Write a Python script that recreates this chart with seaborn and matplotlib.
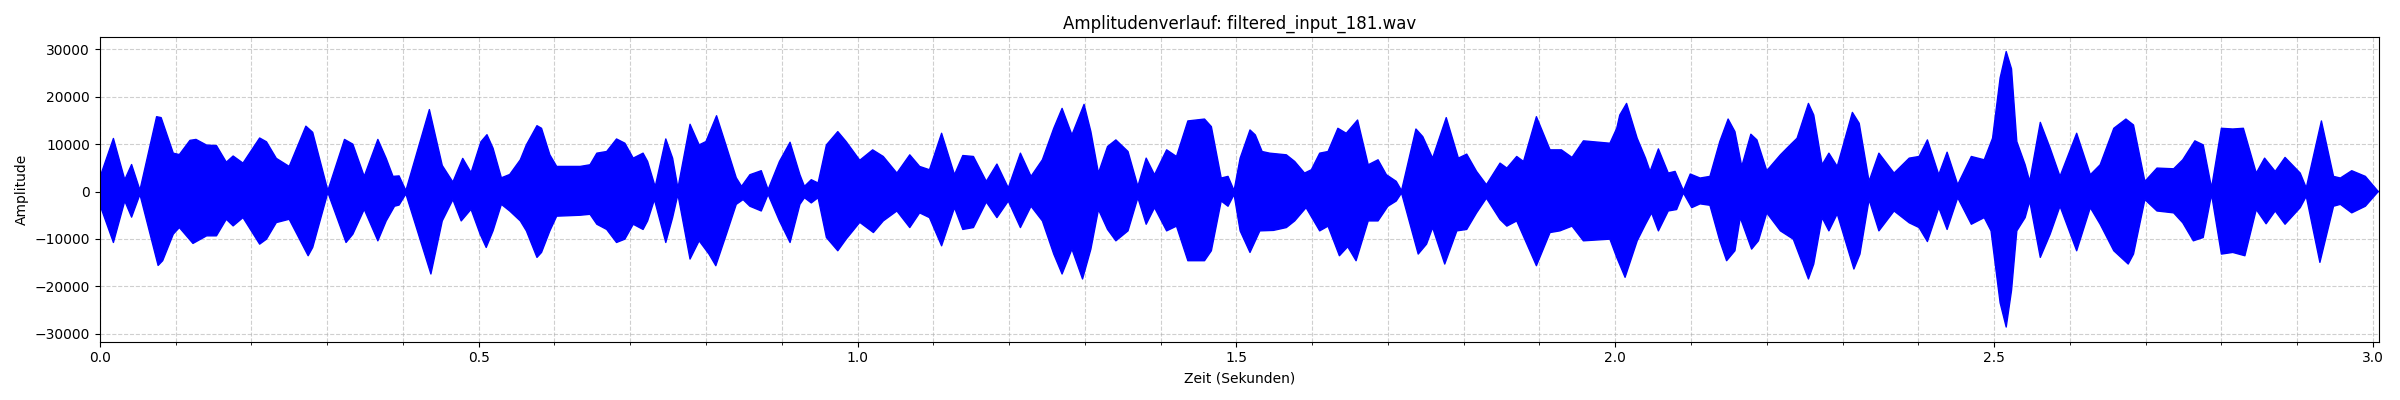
import matplotlib
matplotlib.use("Agg")
import matplotlib.pyplot as plt
from matplotlib.ticker import MultipleLocator
import seaborn as sns

# Huellkurve des Signals (Zeit in s, Amplitude)
zeit_oben = [
    0.000, 0.018, 0.033, 0.042, 0.053, 0.075, 0.081, 0.097, 0.105, 0.119,
    0.127, 0.141, 0.154, 0.167, 0.176, 0.189, 0.211, 0.220, 0.233, 0.250,
    0.272, 0.281, 0.301, 0.323, 0.334, 0.349, 0.367, 0.378, 0.387, 0.395,
    0.404, 0.435, 0.452, 0.466, 0.479, 0.490, 0.503, 0.511, 0.519, 0.530,
    0.541, 0.555, 0.563, 0.577, 0.583, 0.594, 0.603, 0.634, 0.647, 0.656,
    0.669, 0.682, 0.693, 0.704, 0.717, 0.723, 0.733, 0.747, 0.756, 0.763,
    0.779, 0.791, 0.800, 0.814, 0.827, 0.840, 0.847, 0.858, 0.873, 0.882,
    0.897, 0.911, 0.924, 0.930, 0.939, 0.948, 0.959, 0.974, 0.985, 1.003,
    1.020, 1.034, 1.052, 1.069, 1.082, 1.095, 1.111, 1.128, 1.139, 1.153,
    1.170, 1.184, 1.199, 1.215, 1.229, 1.244, 1.259, 1.270, 1.283, 1.299,
    1.308, 1.318, 1.330, 1.341, 1.357, 1.370, 1.381, 1.392, 1.408, 1.421,
    1.436, 1.458, 1.467, 1.480, 1.489, 1.497, 1.505, 1.518, 1.525, 1.534,
    1.544, 1.566, 1.577, 1.590, 1.599, 1.610, 1.621, 1.634, 1.645, 1.660,
    1.674, 1.687, 1.698, 1.711, 1.718, 1.737, 1.746, 1.759, 1.777, 1.793,
    1.804, 1.817, 1.830, 1.848, 1.857, 1.870, 1.879, 1.896, 1.914, 1.929,
    1.943, 1.958, 1.993, 2.002, 2.006, 2.015, 2.029, 2.040, 2.046, 2.057,
    2.070, 2.079, 2.090, 2.099, 2.112, 2.125, 2.138, 2.149, 2.158, 2.167,
    2.179, 2.187, 2.200, 2.218, 2.231, 2.240, 2.255, 2.262, 2.273, 2.282,
    2.293, 2.313, 2.322, 2.335, 2.348, 2.368, 2.388, 2.401, 2.412, 2.427,
    2.438, 2.452, 2.470, 2.487, 2.498, 2.508, 2.516, 2.523, 2.530, 2.541,
    2.547, 2.561, 2.574, 2.587, 2.609, 2.627, 2.640, 2.658, 2.674, 2.684,
    2.699, 2.715, 2.737, 2.749, 2.765, 2.776, 2.787, 2.800, 2.815, 2.829,
    2.846, 2.857, 2.871, 2.884, 2.904, 2.912, 2.932, 2.948, 2.957, 2.972,
    2.990, 3.007,
]
amp_oben = [
    2900, 11200, 2500, 5700, 300, 15800, 15600, 8100, 7800, 10800,
    11000, 9800, 9700, 6200, 7500, 6000, 11300, 10500, 7000, 5300,
    13800, 12500, 200, 11000, 10000, 3200, 11000, 7000, 3200, 3300,
    200, 17300, 5500, 2000, 7000, 4000, 10500, 12000, 9150, 2900,
    3600, 6700, 9850, 13900, 13350, 7750, 5300, 5300, 5650, 8100,
    8450, 11100, 10200, 7050, 8100, 6350, 1000, 11100, 7050, 700,
    14200, 9850, 10550, 16000, 9500, 2900, 1100, 3550, 4400, 400,
    6350, 10400, 3550, 1100, 2500, 1800, 9850, 12650, 10550, 6600,
    8800, 7400, 3900, 7750, 5300, 4600, 12300, 3550, 7600, 7400,
    2150, 5800, 770, 8100, 3200, 6700, 13350, 17550, 11950, 18400,
    12650, 3900, 9500, 10900, 8450, 1100, 7050, 3550, 8800, 7400,
    14900, 15300, 13700, 2850, 3200, 200, 7050, 13000, 11950, 8450,
    8100, 7750, 6350, 3900, 4600, 8100, 8450, 13350, 12300, 15100,
    5650, 6700, 3550, 2150, 200, 13200, 11600, 7050, 15600, 7050,
    7900, 4250, 1450, 6000, 4950, 7400, 6350, 15800, 8800, 8800,
    7200, 10700, 10200, 13350, 16150, 18600, 11250, 7050, 4250, 9000,
    3900, 4250, 200, 3700, 2850, 3200, 10550, 15300, 12650, 5300,
    12100, 10900, 4400, 7750, 9850, 11250, 18600, 16150, 5650, 8100,
    5300, 16700, 14400, 2150, 8100, 3900, 7050, 7400, 10900, 3550,
    8300, 1450, 7400, 6700, 11250, 24000, 29550, 25900, 10550, 5650,
    2150, 14600, 9150, 3200, 12300, 3550, 5650, 13350, 15300, 14050,
    2150, 4950, 4800, 6700, 10700, 9850, 770, 13350, 13200, 13350,
    3900, 7050, 4250, 7200, 3900, 770, 14900, 3200, 2850, 4400,
    3200, 0,
]

zeit_unten = [
    0.000, 0.018, 0.033, 0.042, 0.053, 0.077, 0.083, 0.097, 0.105, 0.123,
    0.141, 0.154, 0.167, 0.176, 0.189, 0.211, 0.220, 0.233, 0.250, 0.275,
    0.281, 0.301, 0.325, 0.334, 0.349, 0.367, 0.378, 0.389, 0.395, 0.404,
    0.437, 0.452, 0.466, 0.477, 0.490, 0.502, 0.510, 0.519, 0.530, 0.541,
    0.555, 0.563, 0.577, 0.583, 0.594, 0.603, 0.634, 0.647, 0.656, 0.669,
    0.682, 0.693, 0.704, 0.717, 0.723, 0.732, 0.747, 0.756, 0.763, 0.779,
    0.791, 0.804, 0.813, 0.827, 0.840, 0.849, 0.858, 0.873, 0.882, 0.897,
    0.911, 0.924, 0.930, 0.939, 0.948, 0.959, 0.974, 0.985, 1.003, 1.021,
    1.034, 1.052, 1.069, 1.082, 1.095, 1.111, 1.128, 1.139, 1.153, 1.170,
    1.184, 1.199, 1.215, 1.229, 1.244, 1.259, 1.270, 1.283, 1.297, 1.308,
    1.318, 1.330, 1.341, 1.357, 1.370, 1.381, 1.392, 1.408, 1.421, 1.436,
    1.458, 1.467, 1.480, 1.489, 1.497, 1.505, 1.518, 1.531, 1.549, 1.566,
    1.577, 1.592, 1.610, 1.621, 1.636, 1.647, 1.658, 1.674, 1.687, 1.700,
    1.711, 1.718, 1.740, 1.751, 1.759, 1.775, 1.791, 1.804, 1.817, 1.830,
    1.848, 1.857, 1.870, 1.896, 1.914, 1.927, 1.943, 1.958, 1.993, 2.002,
    2.013, 2.029, 2.040, 2.048, 2.057, 2.070, 2.081, 2.090, 2.101, 2.112,
    2.125, 2.138, 2.147, 2.158, 2.165, 2.180, 2.189, 2.200, 2.218, 2.235,
    2.255, 2.262, 2.273, 2.282, 2.293, 2.315, 2.323, 2.335, 2.348, 2.368,
    2.388, 2.401, 2.412, 2.427, 2.438, 2.452, 2.470, 2.487, 2.496, 2.508,
    2.516, 2.523, 2.530, 2.541, 2.547, 2.561, 2.574, 2.587, 2.609, 2.627,
    2.640, 2.658, 2.677, 2.684, 2.699, 2.715, 2.737, 2.749, 2.763, 2.776,
    2.787, 2.800, 2.815, 2.831, 2.846, 2.859, 2.871, 2.884, 2.904, 2.912,
    2.930, 2.948, 2.957, 2.972, 2.990, 3.007,
]
amp_unten = [
    -2700, -10750, -2000, -5400, -600, -15600, -14600, -9000, -7600, -10950,
    -9350, -9350, -5850, -7250, -5500, -11100, -10050, -6550, -5850, -13550,
    -11800, -200, -10750, -9000, -3750, -10400, -6200, -3100, -2850, -500,
    -17400, -6200, -1700, -6200, -3750, -9000, -11800, -8300, -2700, -4100,
    -6200, -8300, -13900, -12850, -8300, -5200, -5000, -4800, -6900, -8000,
    -10750, -10050, -6900, -8000, -6200, -1700, -10750, -5500, -600, -14250,
    -10400, -13200, -15650, -9000, -2700, -1700, -3100, -4100, -600, -6200,
    -10750, -2700, -1300, -2400, -1300, -9700, -12500, -10050, -6500, -8650,
    -6200, -4100, -7600, -4500, -5500, -11450, -3400, -8000, -7600, -2200,
    -5500, -2000, -7600, -3100, -6200, -13200, -17400, -12150, -18450, -12150,
    -3800, -8000, -10400, -8300, -1300, -6900, -3400, -8300, -7300, -14600,
    -14600, -12500, -2000, -3100, -600, -8300, -12850, -8300, -8200, -7600,
    -6200, -3400, -8300, -7300, -13550, -11650, -14600, -6200, -6200, -3100,
    -2000, -300, -13200, -11100, -7600, -15300, -8300, -8000, -4500, -1400,
    -5900, -7300, -6200, -15650, -8650, -8300, -7300, -10400, -10050, -13900,
    -18100, -10400, -6900, -4500, -8300, -4100, -3800, -300, -3400, -2600,
    -2900, -10400, -14600, -12500, -5500, -12150, -10400, -4500, -8300, -10050,
    -18450, -15300, -5500, -8300, -4700, -16350, -13200, -1700, -8300, -4100,
    -6600, -7600, -10550, -3400, -8000, -1300, -6900, -5500, -8300, -23500,
    -28600, -20900, -8300, -5500, -2000, -13900, -9000, -3100, -12500, -3400,
    -6900, -12500, -15300, -13200, -1700, -4100, -4500, -6600, -10400, -9700,
    -600, -13200, -12850, -13550, -3800, -6800, -4100, -6900, -3400, -1000,
    -14950, -3100, -2700, -4500, -3100, 0,
]

dauer = 3.008

fig, ax = plt.subplots(figsize=(24, 4), dpi=100)

# Flaeche zwischen oberer und unterer Huellkurve
ax.fill(zeit_oben + zeit_unten[::-1], amp_oben + amp_unten[::-1],
        color="blue", linewidth=0)
sns.lineplot(x=zeit_oben, y=amp_oben, color="blue", linewidth=1, ax=ax)
sns.lineplot(x=zeit_unten, y=amp_unten, color="blue", linewidth=1, ax=ax)

ax.set_xlim(0, dauer)
ax.set_ylim(-31700, 32550)
ax.xaxis.set_minor_locator(MultipleLocator(0.1))
ax.grid(True, which="both", linestyle="--", alpha=0.6)
ax.set_axisbelow(True)

ax.set_title("Amplitudenverlauf: filtered_input_181.wav")
ax.set_xlabel("Zeit (Sekunden)")
ax.set_ylabel("Amplitude")

plt.tight_layout()
plt.savefig("out.png")
